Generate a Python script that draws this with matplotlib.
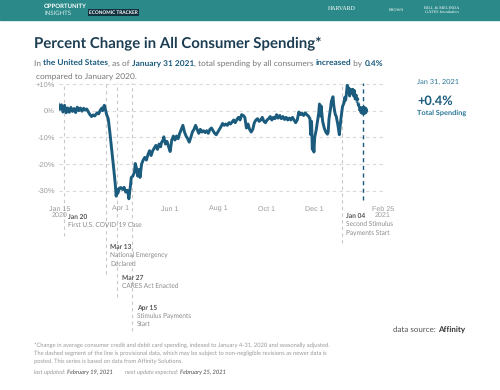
import matplotlib
matplotlib.use("Agg")
import matplotlib.pyplot as plt
import matplotlib.dates as mdates
import pandas as pd
from matplotlib.patches import Rectangle
from matplotlib.font_manager import FontProperties

plt.rcParams["text.hinting"] = "no_hinting"

# Serie diaria (aprox.) del gasto total del consumidor, % vs enero 2020
fechas = [
    "2020-01-13", "2020-01-15", "2020-01-17", "2020-01-19", "2020-01-21", "2020-01-23", "2020-01-25",
    "2020-01-27", "2020-01-29", "2020-01-31",
    "2020-02-02", "2020-02-04", "2020-02-06", "2020-02-08", "2020-02-10", "2020-02-12", "2020-02-14",
    "2020-02-16", "2020-02-18", "2020-02-20", "2020-02-22", "2020-02-24", "2020-02-26", "2020-02-28",
    "2020-03-02", "2020-03-04", "2020-03-06", "2020-03-08", "2020-03-09", "2020-03-11", "2020-03-12",
    "2020-03-14", "2020-03-16", "2020-03-18", "2020-03-20", "2020-03-22", "2020-03-23", "2020-03-25",
    "2020-03-26", "2020-03-27", "2020-03-28", "2020-03-30",
    "2020-04-01", "2020-04-03", "2020-04-05", "2020-04-07", "2020-04-09", "2020-04-10", "2020-04-11",
    "2020-04-13", "2020-04-14", "2020-04-16", "2020-04-18", "2020-04-19", "2020-04-21", "2020-04-22",
    "2020-04-24", "2020-04-25", "2020-04-27", "2020-04-29",
    "2020-05-01", "2020-05-03", "2020-05-05", "2020-05-07", "2020-05-09", "2020-05-11", "2020-05-13",
    "2020-05-15", "2020-05-17", "2020-05-19", "2020-05-21", "2020-05-22", "2020-05-24", "2020-05-25",
    "2020-05-27", "2020-05-29", "2020-05-31",
    "2020-06-02", "2020-06-04", "2020-06-06", "2020-06-08", "2020-06-10", "2020-06-12", "2020-06-14",
    "2020-06-16", "2020-06-18", "2020-06-20", "2020-06-22", "2020-06-24", "2020-06-26", "2020-06-28",
    "2020-06-30",
    "2020-07-02", "2020-07-04", "2020-07-06", "2020-07-08", "2020-07-10", "2020-07-12", "2020-07-14",
    "2020-07-16", "2020-07-18", "2020-07-20", "2020-07-22", "2020-07-24", "2020-07-26", "2020-07-28",
    "2020-07-30",
    "2020-08-01", "2020-08-03", "2020-08-05", "2020-08-07", "2020-08-09", "2020-08-11", "2020-08-13",
    "2020-08-15", "2020-08-17", "2020-08-19", "2020-08-21", "2020-08-23", "2020-08-25", "2020-08-27",
    "2020-08-29", "2020-08-31",
    "2020-09-02", "2020-09-04", "2020-09-06", "2020-09-08", "2020-09-10", "2020-09-12", "2020-09-14",
    "2020-09-16", "2020-09-18", "2020-09-20", "2020-09-22", "2020-09-24", "2020-09-26", "2020-09-28",
    "2020-09-30",
    "2020-10-02", "2020-10-04", "2020-10-06", "2020-10-08", "2020-10-10", "2020-10-12", "2020-10-14",
    "2020-10-16", "2020-10-18", "2020-10-20", "2020-10-22", "2020-10-24", "2020-10-26", "2020-10-28",
    "2020-10-30",
    "2020-11-01", "2020-11-03", "2020-11-05", "2020-11-07", "2020-11-09", "2020-11-11", "2020-11-13",
    "2020-11-15", "2020-11-17", "2020-11-19", "2020-11-21", "2020-11-23", "2020-11-25", "2020-11-26",
    "2020-11-27", "2020-11-28", "2020-11-29", "2020-11-30",
    "2020-12-01", "2020-12-03", "2020-12-05", "2020-12-06", "2020-12-07", "2020-12-08", "2020-12-09",
    "2020-12-11", "2020-12-13", "2020-12-15", "2020-12-17", "2020-12-18", "2020-12-19", "2020-12-21",
    "2020-12-22", "2020-12-24", "2020-12-25", "2020-12-26", "2020-12-27", "2020-12-28", "2020-12-30",
    "2021-01-01", "2021-01-02", "2021-01-03", "2021-01-05", "2021-01-07", "2021-01-08", "2021-01-09",
    "2021-01-10", "2021-01-11", "2021-01-12", "2021-01-13", "2021-01-14", "2021-01-15", "2021-01-17",
    "2021-01-18", "2021-01-19", "2021-01-20", "2021-01-21", "2021-01-22", "2021-01-23", "2021-01-24",
    "2021-01-25", "2021-01-26", "2021-01-27", "2021-01-28", "2021-01-29", "2021-01-30", "2021-01-31",
]
gasto = [
    2.5, 0.5, 2.2, -0.5, 2.0, -0.8, 1.0, -0.6, 1.2, -0.3,
    0.8, -0.7, 1.3, 0.0, 1.0, -0.2, 0.9, 0.2, 0.6, -0.5, -1.5, -2.2, -1.6, -2.0,
    -0.8, -1.2, 0.2, 1.0, 0.0, 2.0, 1.0, -1.5, -3.0, -8.0, -13.5, -19.0, -22.0, -28.0,
    -32.0, -29.5, -31.0, -29.0,
    -28.8, -29.5, -28.7, -30.5, -29.8, -31.0, -33.0, -28.0, -25.0, -24.5, -23.0, -19.8,
    -22.0, -24.5, -22.0, -25.0, -20.0, -18.5,
    -17.5, -18.5, -16.5, -15.0, -16.8, -15.0, -14.0, -13.0, -14.5, -12.5, -13.5, -12.0,
    -11.0, -9.8, -12.5, -11.5, -13.5,
    -15.3, -11.0, -9.5, -11.0, -9.5, -10.5, -8.5, -7.0, -5.5, -8.0, -9.5, -10.5, -11.8,
    -10.0, -8.0,
    -7.0, -5.5, -7.0, -8.5, -7.0, -8.0, -7.5, -8.2, -7.5, -8.5, -7.0, -6.5, -7.5, -8.5, -9.0,
    -8.0, -7.0, -6.0, -4.8, -5.5, -5.0, -5.5, -4.5, -5.0, -4.2, -3.5, -4.5, -3.3, -2.5,
    -3.5, -1.5,
    -1.8, -2.5, -6.5, -5.0, -7.0, -8.0, -7.0, -4.5, -3.5, -3.0, -4.0, -3.5, -2.5, -4.0, -4.5,
    -3.5, -3.0, -2.2, -3.5, -2.5, -3.0, -1.5, -2.8, -1.8, -3.0, -2.2, -3.3, -2.5, -3.5, -2.8,
    -3.5, -2.5, -3.5, -4.5, -3.5, -0.5, -1.5, -1.0, -1.8, -0.8, -1.5, -2.0, -3.0, -9.0,
    -4.0, -14.5, -12.0, -15.5,
    -10.0, -7.0, -3.0, -1.0, 2.5, -2.0, 1.8, -4.0, -6.5, -8.0, -8.8, -8.0, -3.0, 1.0,
    3.5, 5.2, 2.0, 0.0, -1.5, -2.0, -5.0,
    -9.0, -6.0, -3.0, 1.5, 3.0, 5.0, 4.0, 6.5, 9.5, 7.0, 8.5, 5.5, 8.0, 6.5,
    8.0, 5.5, 7.5, 4.5, 6.5, 3.5, 4.5, 2.0, 2.5, -0.5, 1.5, 0.2, 1.0, 0.4,
]
inicio_provisional = "2021-01-21"

# Eventos marcados bajo el eje
eventos_fecha = ["2020-01-20", "2020-03-13", "2020-03-27", "2020-04-15", "2021-01-04"]
eventos_titulo = ["Jan 20", "Mar 13", "Mar 27", "Apr 15", "Jan 04"]
eventos_texto = ["First U.S. COVID-19 Case", "National Emergency\nDeclared", "CARES Act Enacted",
                 "Stimulus Payments\nStart", "Second Stimulus\nPayments Start"]
eventos_largo = [-0.27, -0.58, -0.77, -1.04, -0.33]
eventos_ytitulo = [-0.116, -0.36, -0.61, -0.856, -0.108]

ticks_x = ["2020-01-15", "2020-04-01", "2020-06-01", "2020-08-01", "2020-10-01", "2020-12-01", "2021-02-25"]
etiquetas_x = ["Jan 15\n2020", "Apr 1", "Jun 1", "Aug 1", "Oct 1", "Dec 1", "Feb 25\n2021"]
ticks_y = [10, 0, -10, -20, -30]
etiquetas_y = ["+10%", "0%", "-10%", "-20%", "-30%"]

AZUL = "#1b5b7d"
GRIS = "#8a8a8a"
FUENTE = "Lato"
W, H = 500, 390

df = pd.DataFrame({"fecha": pd.to_datetime(fechas), "gasto": gasto})
firme = df[df.fecha <= pd.Timestamp(inicio_provisional)]
prov = df[df.fecha >= pd.Timestamp(inicio_provisional)]

fig = plt.figure(figsize=(5, 3.9), dpi=100)
ax = fig.add_axes([0.118, 0.48, 0.648, 0.315])
renderer = fig.canvas.get_renderer()


def ancho(texto, size, negrita=False, italica=False):
    # ancho de avance en pixeles, medido a tamaño grande para evitar redondeos
    fp = FontProperties(family=FUENTE, size=100, weight="bold" if negrita else "normal",
                        style="italic" if italica else "normal")
    w1 = renderer.get_text_width_height_descent("x" + texto + "x", fp, ismath=False)[0]
    w0 = renderer.get_text_width_height_descent("xx", fp, ismath=False)[0]
    return (w1 - w0) * size / 100


def texto_mixto(x, y, partes, size, italica=False):
    # partes: (texto, negrita, color); x, y en pixeles desde arriba-izquierda
    for txt, negrita, color in partes:
        fig.text(x / W, 1 - y / H, txt, fontsize=size, family=FUENTE, color=color, va="center",
                 fontweight="bold" if negrita else "normal", style="italic" if italica else "normal")
        x += ancho(txt, size, negrita, italica)
    return x


def ajustar(partes, objetivo, italica=False):
    base = sum(ancho(t, 10, n, italica) for t, n, _ in partes)
    return 10 * objetivo / base


# Banda superior
fig.patches.append(Rectangle((0, 0.949), 1, 0.051, transform=fig.transFigure, color="#2b8a89", zorder=0))
fig.text(0.088, 0.984, "OPPORTUNITY", color="white", fontsize=4.3, fontweight="bold", family=FUENTE, va="center")
fig.text(0.088, 0.966, "INSIGHTS", color="#d8eeee", fontsize=4.3, family=FUENTE, va="center")
fig.text(0.178, 0.968, "ECONOMIC TRACKER", color="white", fontsize=3.4, fontweight="bold", family=FUENTE,
         va="center", bbox=dict(boxstyle="square,pad=0.3", fc="#12323f", ec="none"))
fig.text(0.656, 0.976, "HARVARD", color="white", fontsize=4.2, family="Liberation Serif", va="center")
fig.text(0.778, 0.974, "BROWN", color="white", fontsize=3.0, family="Liberation Serif", va="center")
fig.text(0.884, 0.974, "BILL & MELINDA\nGATES foundation", color="white", fontsize=3.2,
         family="Liberation Serif", va="center", ha="center", linespacing=1.1)

# Titulo y subtitulo
fig.text(0.068, 0.887, "Percent Change in All Consumer Spending*", fontsize=10.8, fontweight="bold",
         color="#1c3d52", family=FUENTE, va="center")

GT = "#777777"
subtitulo = [("In ", False, GT), ("the United States", True, AZUL), (", as of ", False, GT),
             ("January 31 2021", True, AZUL), (", total spending by all consumers ", False, GT),
             ("increased", True, AZUL), (" by ", False, GT), ("0.4%", True, AZUL)]
t_sub = ajustar(subtitulo, 349)
texto_mixto(34, 64, subtitulo, t_sub)
texto_mixto(36, 77, [("compared to January 2020.", False, GT)], t_sub)

# Lineas de cuadricula horizontales
for v in ticks_y:
    ax.axhline(v, color="#d9d9d9", lw=0.8, ls=(0, (3, 3)), zorder=1)

# Lineas de eventos
trans = ax.get_xaxis_transform()
for f, tit, txt, largo, yt in zip(eventos_fecha, eventos_titulo, eventos_texto, eventos_largo, eventos_ytitulo):
    xf = mdates.date2num(pd.Timestamp(f))
    ax.axvline(xf, ymin=largo, ymax=0.975, color="#c8c8c8", lw=0.8, ls=(0, (3, 3)),
               clip_on=False, zorder=1)
    ax.annotate(tit, xy=(xf, yt), xycoords=trans, xytext=(3.3, 0), textcoords="offset points",
                fontsize=4.8, fontweight="bold", color="#555555", family=FUENTE, va="center",
                annotation_clip=False)
    ax.annotate(txt, xy=(xf, yt), xycoords=trans, xytext=(3.3, -3.5), textcoords="offset points",
                fontsize=4.7, color=GRIS, family=FUENTE, va="top", linespacing=1.4,
                annotation_clip=False)

# Serie
ax.plot(firme.fecha, firme.gasto, color=AZUL, lw=2.1, solid_joinstyle="round", zorder=3)
ax.plot(prov.fecha, prov.gasto, color=AZUL, lw=2.1, ls=(0, (1.5, 0.8)), zorder=3)
ultimo = df.iloc[-1]
ax.axvline(ultimo.fecha, ymin=0.02, ymax=0.975, color=AZUL, lw=1.0, ls=(0, (3, 2.5)), zorder=2)
ax.plot([ultimo.fecha], [ultimo.gasto], "o", color=AZUL, ms=5.5, zorder=4)

ax.set_xlim(pd.Timestamp("2020-01-14"), pd.Timestamp("2021-02-25"))
ax.set_ylim(-34.5, 11.5)
ax.set_xticks(pd.to_datetime(ticks_x))
ax.set_xticklabels(etiquetas_x, fontsize=5.1, color="#9a9a9a", family="Liberation Sans", linespacing=1.0)
ax.set_yticks(ticks_y)
ax.set_yticklabels(etiquetas_y, fontsize=5.4, color="#9a9a9a", family="Liberation Sans")
ax.tick_params(axis="x", length=0, pad=2)
ax.tick_params(axis="y", length=0, pad=3)
for s in ax.spines.values():
    s.set_visible(False)

# Panel derecho
fig.text(0.834, 0.79, "Jan 31, 2021", fontsize=5.3, color="#2a7596", family=FUENTE, va="center")
fig.text(0.834, 0.741, "+0.4%", fontsize=9.2, fontweight="bold", color=AZUL, family=FUENTE, va="center")
fig.text(0.834, 0.71, "Total Spending", fontsize=5.3, fontweight="bold", color="#2a7596", family=FUENTE,
         va="center")

# Fuente de datos
fuente = [("data source: ", False, "#555555"), ("Affinity", True, "#333333")]
texto_mixto(393, 330, fuente, ajustar(fuente, 72))

# Notas al pie
nota = ["*Change in average consumer credit and debit card spending, indexed to January 4-31, 2020 and seasonally adjusted.",
        "The dashed segment of the line is provisional data, which may be subject to non-negligible revisions as newer data is",
        "posted. This series is based on data from Affinity Solutions."]
t_nota = ajustar([(nota[0], False, None)], 296)
for i, linea in enumerate(nota):
    texto_mixto(34, 345 + 8 * i, [(linea, False, "#999999")], t_nota)

GC = "#999999"
texto_mixto(34, 372, [("last updated: ", False, GC), ("February 19, 2021", True, "#777777")], t_nota, italica=True)
texto_mixto(125, 372, [("next update expected: ", False, GC), ("February 25, 2021", True, "#777777")], t_nota,
            italica=True)

fig.savefig("out.png", dpi=100)
